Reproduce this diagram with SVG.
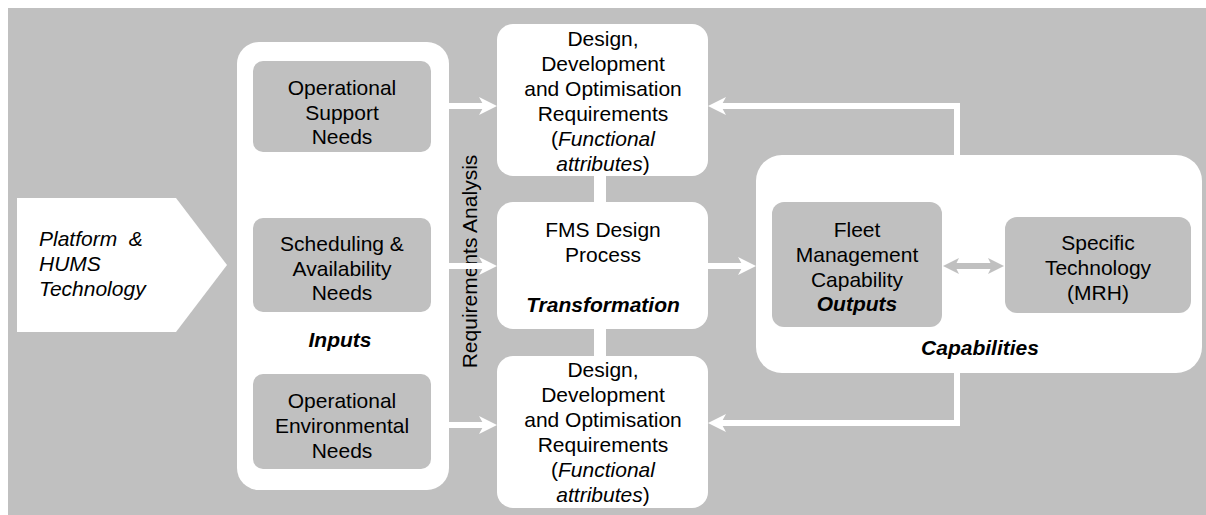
<svg xmlns="http://www.w3.org/2000/svg" width="1206" height="515" viewBox="0 0 1206 515">
<style>
text{font-family:"Liberation Sans",Arial,sans-serif;font-size:21px;fill:#000;text-anchor:middle}
.it{font-style:italic}
.bi{font-style:italic;font-weight:bold}
.w{fill:#fff}
.g{fill:#c0c0c0}
.wl{stroke:#fff;stroke-width:6;fill:none}
.gl{stroke:#c0c0c0;stroke-width:6;fill:none}
</style>
<defs>
<marker id="wh" viewBox="0 0 18 18" refX="8" refY="9" markerWidth="18" markerHeight="18" markerUnits="userSpaceOnUse" orient="auto">
<path d="M0,0 L18,9 L0,18 L5,9 z" fill="#fff"/>
</marker>
<marker id="gh" viewBox="0 0 16 16" refX="7" refY="8" markerWidth="16" markerHeight="16" markerUnits="userSpaceOnUse" orient="auto-start-reverse">
<path d="M0,0 L16,8 L0,16 L4,8 z" fill="#c0c0c0"/>
</marker>
</defs>
<rect x="8" y="8" width="1198" height="507" fill="#c0c0c0"/>

<g id="platform">
<path class="w" d="M17,198 L176,198 L227,265 L176,332 L17,332 Z"/>
<text class="it" x="39" y="246" style="text-anchor:start" xml:space="preserve">Platform  &amp;</text>
<text class="it" x="39" y="271" style="text-anchor:start">HUMS</text>
<text class="it" x="39" y="296" style="text-anchor:start">Technology</text>
</g>

<g id="inputs">
<rect class="w" x="237" y="42" width="212" height="448" rx="22"/>
<text class="bi" x="340" y="347">Inputs</text>
</g>
<g id="op-support">
<rect class="g" x="253" y="61" width="178" height="91" rx="10"/>
<text x="342" y="95">Operational</text>
<text x="342" y="120">Support</text>
<text x="342" y="144">Needs</text>
</g>
<g id="scheduling">
<rect class="g" x="253" y="218" width="178" height="94" rx="10"/>
<text x="342" y="251">Scheduling &amp;</text>
<text x="342" y="276">Availability</text>
<text x="342" y="300">Needs</text>
</g>
<g id="op-env">
<rect class="g" x="253" y="374" width="178" height="95" rx="10"/>
<text x="342" y="408">Operational</text>
<text x="342" y="433">Environmental</text>
<text x="342" y="458">Needs</text>
</g>

<g id="req-analysis">
<text transform="translate(477,261.5) rotate(-90)" x="0" y="0">Requirements Analysis</text>
</g>

<g id="connectors">
<rect class="w" x="594" y="170" width="12" height="40"/>
<rect class="w" x="594" y="322" width="12" height="40"/>
<path class="wl" d="M449,106 L487,106" marker-end="url(#wh)"/>
<path class="wl" d="M449,266 L487,266" marker-end="url(#wh)"/>
<path class="wl" d="M449,425 L487,425" marker-end="url(#wh)"/>
<path class="wl" d="M708,266 L746,266" marker-end="url(#wh)"/>
<path class="wl" d="M957,160 L957,106 L718,106" marker-end="url(#wh)"/>
<path class="wl" d="M957,368 L957,423 L718,423" marker-end="url(#wh)"/>
</g>

<g id="design-top">
<rect class="w" x="497" y="24" width="211" height="152" rx="16"/>
<text x="603" y="46">Design,</text>
<text x="603" y="71">Development</text>
<text x="603" y="96">and Optimisation</text>
<text x="603" y="121">Requirements</text>
<text x="603" y="146">(<tspan class="it">Functional</tspan></text>
<text x="603" y="171"><tspan class="it">attributes</tspan>)</text>
</g>
<g id="fms">
<rect class="w" x="497" y="202" width="211" height="127" rx="16"/>
<text x="603" y="237">FMS Design</text>
<text x="603" y="262">Process</text>
<text class="bi" x="603" y="312">Transformation</text>
</g>
<g id="design-bottom">
<rect class="w" x="497" y="356" width="211" height="152" rx="16"/>
<text x="603" y="377">Design,</text>
<text x="603" y="402">Development</text>
<text x="603" y="427">and Optimisation</text>
<text x="603" y="452">Requirements</text>
<text x="603" y="477">(<tspan class="it">Functional</tspan></text>
<text x="603" y="502"><tspan class="it">attributes</tspan>)</text>
</g>

<g id="capabilities">
<rect class="w" x="756" y="155" width="446" height="218" rx="26"/>
<text class="bi" x="980" y="355">Capabilities</text>
</g>
<g id="fleet">
<rect class="g" x="772" y="202" width="170" height="125" rx="12"/>
<text x="857" y="237">Fleet</text>
<text x="857" y="262">Management</text>
<text x="857" y="287">Capability</text>
<text class="bi" x="857" y="311">Outputs</text>
</g>
<g id="specific">
<rect class="g" x="1005" y="217" width="186" height="96" rx="12"/>
<text x="1098" y="250">Specific</text>
<text x="1098" y="275">Technology</text>
<text x="1098" y="300">(MRH)</text>
</g>
<g id="link">
<path class="gl" d="M952,266 L995,266" marker-start="url(#gh)" marker-end="url(#gh)"/>
</g>
</svg>
